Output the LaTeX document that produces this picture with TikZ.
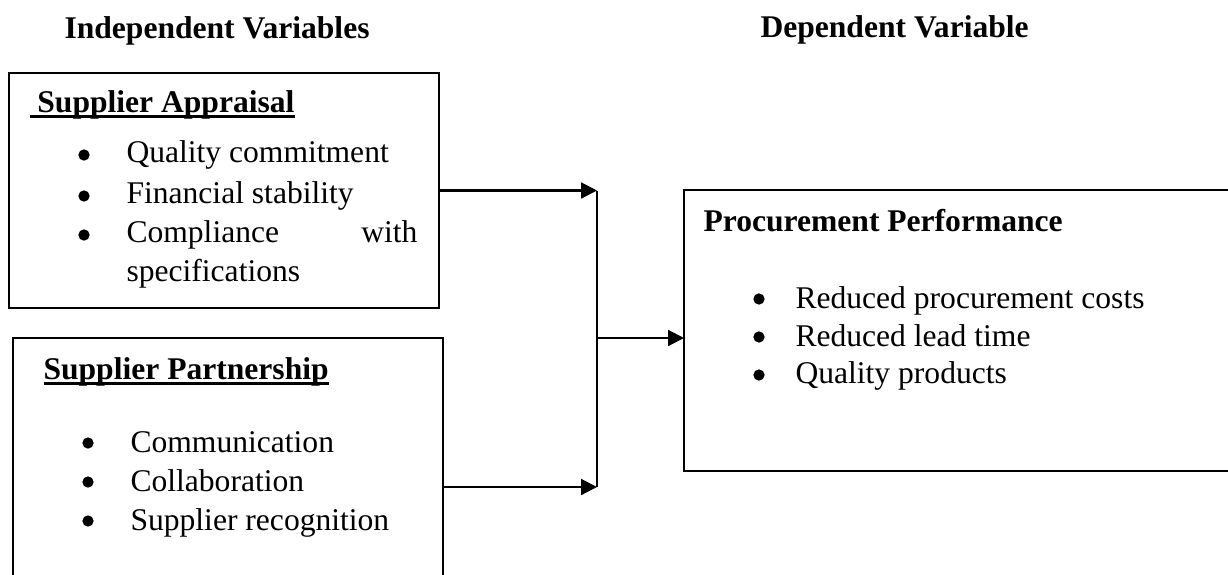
\documentclass[tikz,border=0pt]{standalone}
\usepackage{fontspec}
\setmainfont{Liberation Serif}
\usetikzlibrary{arrows.meta}

\newcommand{\ulhead}[1]{\sbox0{#1}\rlap{\rule[-2.4pt]{\wd0}{1.1pt}}\usebox0}

\begin{document}
\begin{tikzpicture}[x=0.38pt,y=-0.38pt,
	box/.style={draw,line width=0.8pt,anchor=north west,inner sep=0pt,outer sep=0pt},
	txt/.style={anchor=base west,inner sep=0pt,font=\fontsize{12}{14}\selectfont},
	head/.style={anchor=base west,inner sep=0pt,font=\fontsize{12}{14}\selectfont\bfseries},
	bul/.style={circle,fill,inner sep=0pt,minimum size=4.3pt},
	arrow/.style={line width=0.8pt,-{Triangle[length=6pt,width=6pt]}}]
	\useasboundingbox (0,0) rectangle (1228,574);
	\clip (0,0) rectangle (1228,574);
	
	% headings
	\node[head] (indep) at (64,38) {Independent Variables};
	\node[head] (dep) at (760,37) {Dependent Variable};
	
	% boxes
	\node[box,minimum width={430*0.38pt},minimum height={235*0.38pt}] (app) at (9,73) {};
	\node[box,minimum width={430*0.38pt},minimum height={300*0.38pt}] (part) at (13,338) {};
	\node[box,minimum width={600*0.38pt},minimum height={281*0.38pt}] (perf) at (684,190) {};
	
	% supplier appraisal
	\node[head] (apptitle) at (29,112) {\ulhead{\ Supplier Appraisal}};
	\node[bul] (b1) at (84,155) {};
	\node[txt] (quality) at (126,162) {Quality commitment};
	\node[bul] (b2) at (84,196) {};
	\node[txt] (finance) at (126,203) {Financial stability};
	\node[bul] (b3) at (84,235) {};
	\node[txt] (comply) at (126,242) {Compliance};
	\node[txt,anchor=base east] (with) at (418,242) {with};
	\node[txt] (spec) at (126,281) {specifications};
	
	% supplier partnership
	\node[head] (parttitle) at (43,379) {\ulhead{Supplier Partnership}};
	\node[bul] (b4) at (88,443) {};
	\node[txt] (comm) at (130,452) {Communication};
	\node[bul] (b5) at (88,482) {};
	\node[txt] (collab) at (130,491) {Collaboration};
	\node[bul] (b6) at (88,521) {};
	\node[txt] (recog) at (130,530) {Supplier recognition};
	
	% procurement performance
	\node[head] (perftitle) at (703,231) {Procurement Performance};
	\node[bul] (b7) at (759,299) {};
	\node[txt] (costs) at (795,308) {Reduced procurement costs};
	\node[bul] (b8) at (759,337) {};
	\node[txt] (lead) at (795,346) {Reduced lead time};
	\node[bul] (b9) at (759,375) {};
	\node[txt] (prod) at (795,383) {Quality products};
	
	% connectors
	\coordinate (jtop) at (597,190.5);
	\coordinate (jmid) at (597,338);
	\coordinate (jbot) at (597,487);
	\draw[arrow] (app.east) -- (jtop);
	\draw[arrow] (part.east |- jbot) -- (jbot);
	\draw[line width=0.8pt] (jtop) -- (jbot);
	\draw[arrow] (jmid) -- (jmid -| perf.west);
\end{tikzpicture}
\end{document}
